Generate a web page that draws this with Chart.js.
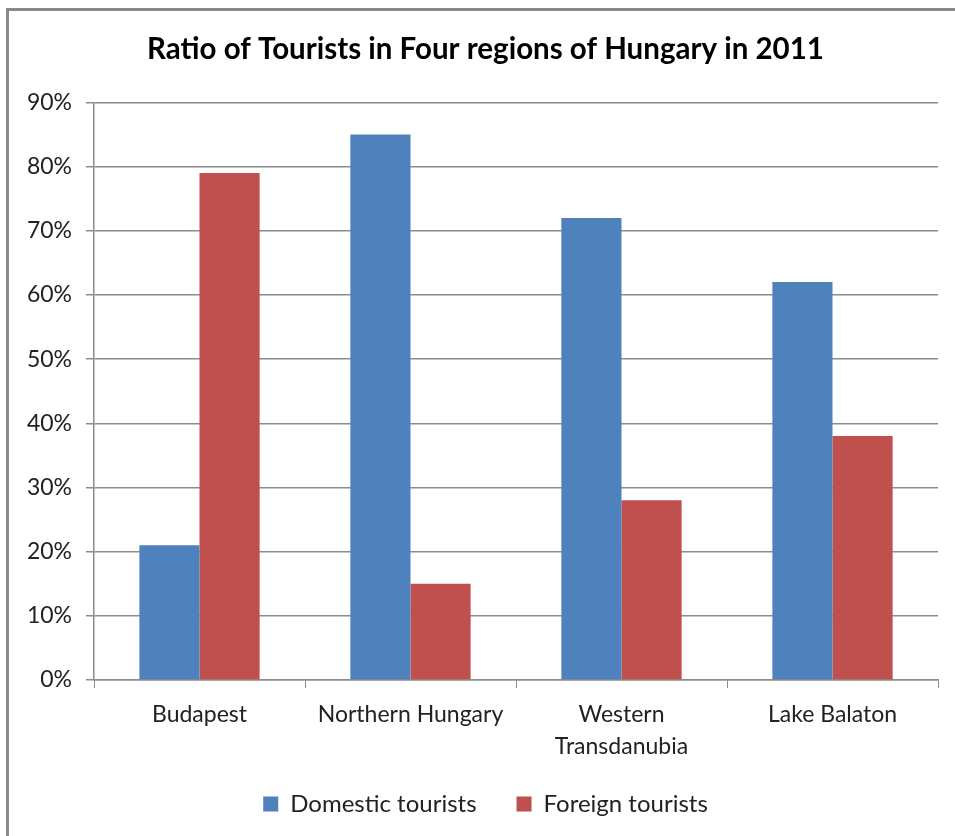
<!DOCTYPE html>
<html>
<head>
<meta charset="utf-8">
<script src="https://cdn.jsdelivr.net/npm/chart.js@4.4.1/dist/chart.umd.min.js"></script>
<style>
  body { margin: 0; background: #fff; }
  #wrap { position: absolute; left: 0; top: 0; width: 955px; height: 836px; }
  #frame { position: absolute; left: 6px; top: 8px; width: 1000px; height: 900px;
           border-left: 3px solid #8a8a8a; border-top: 3px solid #8a8a8a; pointer-events: none; }
</style>
</head>
<body>
<div id="wrap"><canvas id="chartCanvas" width="955" height="836"></canvas></div>
<div id="frame"></div>
<script>
// Chart data
var regions = ['Budapest', 'Northern Hungary', ['Western', 'Transdanubia'], 'Lake Balaton']
var domestic = [21, 85, 72, 62]
var foreign = [79, 15, 28, 38]
var yTicks = [0, 10, 20, 30, 40, 50, 60, 70, 80, 90]

var fontFam = 'Lato, "Open Sans", sans-serif'
var gridCol = '#8c8c8c'

var chartData = {
    labels: regions,
    datasets: [{
        label: 'Domestic tourists',
        data: domestic,
        backgroundColor: '#4f81bd'
    }, {
        label: 'Foreign tourists',
        data: foreign,
        backgroundColor: '#c0504d'
    }]
}

var options = {
    responsive: false,
    animation: false,
    layout: { padding: { left: 16, right: 0, top: 26, bottom: 10 } },
    datasets: { bar: { categoryPercentage: 0.57, barPercentage: 1.0 } },
    plugins: {
        title: {
            display: true,
            text: 'Ratio of Tourists in Four regions of Hungary in 2011',
            color: '#000',
            font: { family: fontFam, size: 29.5, weight: 'bold' },
            padding: { top: 6, bottom: 35 }
        },
        legend: {
            position: 'bottom',
            labels: {
                color: '#222',
                font: { family: fontFam, size: 24 },
                boxWidth: 15,
                boxHeight: 15,
                padding: 40
            }
        },
        tooltip: { enabled: false }
    },
    scales: {
        x: {
            grid: { offset: true, drawOnChartArea: false, drawTicks: true, tickLength: 8, color: gridCol },
            border: { color: gridCol, width: 1.5 },
            ticks: { color: '#222', font: { family: fontFam, size: 23, lineHeight: 1.4 }, padding: 10, maxRotation: 0 },
            afterFit: function(scale) {
                scale.height = 72
                // let the two-line label run into the legend's (empty) top padding
                scale._computeLabelArea = function() { return undefined }
            }
        },
        y: {
            min: 0,
            max: 90,
            afterBuildTicks: function(scale) {
                scale.ticks = yTicks.map(function(v) { return { value: v } })
            },
            grid: { color: gridCol, lineWidth: 1.5, tickLength: 8 },
            border: { color: gridCol, width: 1.5 },
            ticks: {
                color: '#222',
                font: { family: fontFam, size: 23 },
                padding: 14,
                callback: function(v) { return v + '%' }
            },
            afterFit: function(scale) { scale.width = 78 }
        },
        // empty right-hand spacer so the plot ends where the original does
        yRight: {
            position: 'right',
            grid: { display: false },
            border: { display: false },
            ticks: { display: false },
            afterFit: function(scale) { scale.width = 17 }
        }
    }
}

var ctx = document.getElementById('chartCanvas').getContext('2d')
var myChart = new Chart(ctx, { type: 'bar', data: chartData, options: options })
</script>
</body>
</html>
